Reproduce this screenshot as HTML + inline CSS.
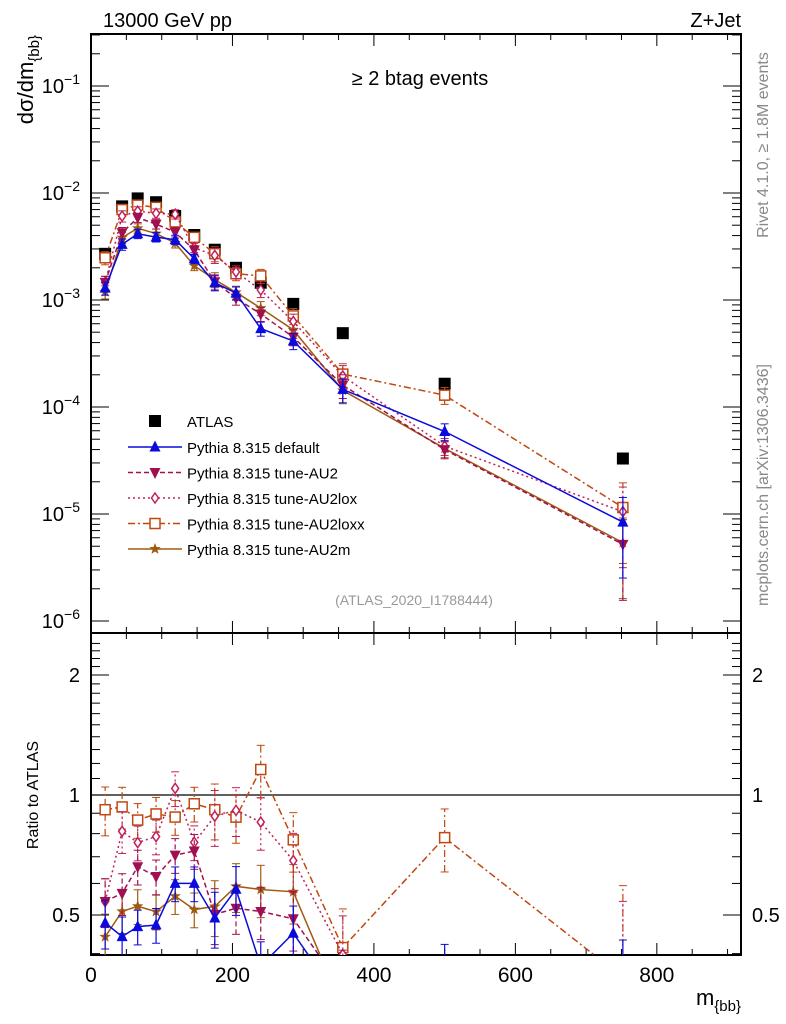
<!DOCTYPE html>
<html><head><meta charset="utf-8"><style>
html,body{margin:0;padding:0;background:#fff;overflow:hidden;width:786px;height:1024px}
svg{display:block;font-family:"Liberation Sans",sans-serif}
</style></head><body>
<svg id="c" width="786" height="1024" viewBox="0 0 786 1024"></svg>
<script>
const mbb=[20,44,66,92,119,146,175,205,240,286,356,500,752];
const atlas=[2.70e-3,7.5e-3,8.9e-3,8.2e-3,6.1e-3,4.05e-3,2.95e-3,2.0e-3,1.45e-3,9.2e-4,4.9e-4,1.65e-4,3.3e-5];
const pDefault=[1.29e-3,3.31e-3,4.16e-3,3.87e-3,3.66e-3,2.43e-3,1.45e-3,1.16e-3,5.4e-4,4.14e-4,1.46e-4,5.9e-5,8.4e-6];
const pAU2=[1.46e-3,4.25e-3,5.88e-3,5.12e-3,4.31e-3,2.93e-3,1.48e-3,1.04e-3,7.4e-4,4.5e-4,1.6e-4,4.0e-5,5.2e-6];
const pAU2lox=[1.46e-3,6.08e-3,6.76e-3,6.45e-3,6.34e-3,3.08e-3,2.61e-3,1.83e-3,1.24e-3,6.3e-4,1.95e-4,4.3e-5,1.05e-5];
const pAU2loxx=[2.48e-3,7.0e-3,7.7e-3,7.35e-3,5.37e-3,3.85e-3,2.71e-3,1.76e-3,1.68e-3,7.1e-4,2.03e-4,1.29e-4,1.15e-5];
const pAU2m=[1.19e-3,3.83e-3,4.68e-3,4.18e-3,3.4e-3,2.09e-3,1.55e-3,1.18e-3,8.4e-4,5.26e-4,1.43e-4,4.1e-5,5.4e-6];
const relErr=[0.14,0.12,0.1,0.1,0.1,0.1,0.16,0.14,0.15,0.17,0.25,0.18,0.7];
const series=[
 {name:'Pythia 8.315 default',v:pDefault,col:'#0a0adc',dash:'',m:'tri'},
 {name:'Pythia 8.315 tune-AU2',v:pAU2,col:'#a01050',dash:'5,3',m:'tridown'},
 {name:'Pythia 8.315 tune-AU2lox',v:pAU2lox,col:'#c0205a',dash:'2,3',m:'diamond'},
 {name:'Pythia 8.315 tune-AU2loxx',v:pAU2loxx,col:'#c04810',dash:'7,3,2,3',m:'square'},
 {name:'Pythia 8.315 tune-AU2m',v:pAU2m,col:'#a05a10',dash:'',m:'star'}];
const xTicks=[0,200,400,600,800];
const rTicks=[0.5,1,2];
const yDecades=[-6,-5,-4,-3,-2,-1];

const S=document.getElementById('c'),NS='http://www.w3.org/2000/svg';
function el(t,a,p){const e=document.createElementNS(NS,t);for(const k in a)e.setAttribute(k,a[k]);(p||S).appendChild(e);return e;}
const X0=91,X1=741,XMAX=919;
const X=v=>X0+v/XMAX*(X1-X0);
const MT=34,MB=633,Y=v=>86-(Math.log10(v)+1)*107;
const RT=633,RB=955,R=v=>795-Math.log2(v)*120;
const defs=el('defs',{});
const c1=el('clipPath',{id:'cm'},defs);el('rect',{x:X0,y:MT,width:X1-X0,height:MB-MT},c1);
const c2=el('clipPath',{id:'cr'},defs);el('rect',{x:X0,y:RT,width:X1-X0,height:RB-RT},c2);
let f=el('rect',{x:X0,y:MT,width:X1-X0,height:MB-MT,fill:'none',stroke:'#000','stroke-width':2});

f=el('rect',{x:X0,y:RT,width:X1-X0,height:RB-RT,fill:'none',stroke:'#000','stroke-width':2});

for(let v=0;v<=XMAX;v+=50){const big=v%200==0;const L=big?12:6;
 for(const [t,b] of [[MT,MB],[RT,RB]]){
  el('line',{x1:X(v),x2:X(v),y1:t,y2:t+L,stroke:'#000'});
  el('line',{x1:X(v),x2:X(v),y1:b,y2:b-L,stroke:'#000'});}}
xTicks.forEach(v=>{const t=el('text',{x:X(v),y:982,'font-size':21,'text-anchor':'middle'});t.textContent=v;
 });
yDecades.forEach(d=>{for(let k=1;k<10;k++){const y=Y(k*Math.pow(10,d));if(y<MT||y>MB)continue;const L=k==1?18:9;
 el('line',{x1:X0,x2:X0+L,y1:y,y2:y,stroke:'#000'});el('line',{x1:X1,x2:X1-L,y1:y,y2:y,stroke:'#000'});}
 const t=el('text',{x:80,y:Y(Math.pow(10,d))+7,'font-size':20,'text-anchor':'end'});
 t.innerHTML='10<tspan dy="-9" font-size="14">\u2212'+(-d)+'</tspan>';
 });
for(let v=0.4;v<=2.5;v+=0.1){const y=R(v);if(y<RT||y>RB)continue;const big=rTicks.some(r=>Math.abs(r-v)<1e-6);const L=big?18:9;
 el('line',{x1:X0,x2:X0+L,y1:y,y2:y,stroke:'#000'});el('line',{x1:X1,x2:X1-L,y1:y,y2:y,stroke:'#000'});}
rTicks.forEach(v=>{for(const [x,a] of [[80,'end'],[752,'start']]){const t=el('text',{x:x,y:R(v)+7,'font-size':20,'text-anchor':a});t.textContent=v;
 }});
el('line',{x1:X0,x2:X1,y1:R(1),y2:R(1),stroke:'#000','stroke-width':1.3});
function marker(g,m,x,y,col){const s=5.5;
 if(m=='tri')el('polygon',{points:`${x},${y-s-1} ${x-s},${y+s-1} ${x+s},${y+s-1}`,fill:col},g);
 else if(m=='tridown')el('polygon',{points:`${x},${y+s+1} ${x-s},${y-s+1} ${x+s},${y-s+1}`,fill:col},g);
 else if(m=='diamond')el('polygon',{points:`${x},${y-5} ${x-3.5},${y} ${x},${y+5} ${x+3.5},${y}`,fill:'#fff',stroke:col,'stroke-width':1.5},g);
 else if(m=='square')el('rect',{x:x-5,y:y-5,width:10,height:10,fill:'#fff',stroke:col,'stroke-width':1.5},g);
 else if(m=='star'){let p=[];for(let i=0;i<10;i++){const r=i%2?2.5:6,a=Math.PI/5*i-Math.PI/2;p.push((x+r*Math.cos(a)).toFixed(1)+','+(y+r*Math.sin(a)).toFixed(1));}el('polygon',{points:p.join(' '),fill:col},g);}
 else if(m=='sq')el('rect',{x:x-6,y:y-6,width:12,height:12,fill:'#000'},g);}
function drawSeries(s,Yf,vals,clip,nm){const g=el('g',{'clip-path':'url(#'+clip+')'});
 
 el('polyline',{points:vals.map((v,i)=>X(mbb[i])+','+Yf(v)).join(' '),fill:'none',stroke:s.col,'stroke-width':1.5,'stroke-dasharray':s.dash},g);
 vals.forEach((v,i)=>{const x=X(mbb[i]);const lo=Math.max(v*(1-relErr[i]),v*0.02),hi=v*(1+relErr[i]);
  el('line',{x1:x,x2:x,y1:Yf(lo),y2:Yf(hi),stroke:s.col,'stroke-width':1.2,'stroke-dasharray':s.dash},g);
  el('line',{x1:x-4,x2:x+4,y1:Yf(lo),y2:Yf(lo),stroke:s.col},g);el('line',{x1:x-4,x2:x+4,y1:Yf(hi),y2:Yf(hi),stroke:s.col},g);
  marker(g,s.m,x,Yf(v),s.col);});}
const ga=el('g',{'clip-path':'url(#cm)'});
atlas.forEach((v,i)=>marker(ga,'sq',X(mbb[i]),Y(v),'#000'));
series.slice().reverse().forEach(s=>{drawSeries(s,Y,s.v,'cm','series-'+s.m);
 drawSeries(s,R,s.v.map((v,i)=>v/atlas[i]),'cr','ratio-'+s.m);});
const lg=el('g',{});
marker(lg,'sq',155,421,'#000');let t=el('text',{x:187,y:427,'font-size':15},lg);t.textContent='ATLAS';
series.forEach((s,i)=>{const y=447+i*25.5;const e=el('g',{},lg);
 el('line',{x1:128,x2:182,y1:y,y2:y,stroke:s.col,'stroke-width':1.5,'stroke-dasharray':s.dash},e);marker(e,s.m,155,y,s.col);
 const tt=el('text',{x:187,y:y+6,'font-size':15},e);tt.textContent=s.name;});
function txt(x,y,s,a,str,name,extra){const e=el('text',Object.assign({x:x,y:y,'font-size':s,'text-anchor':a},extra||{}));e.innerHTML=str;return e;}
txt(103,27,20,'start','13000 GeV pp','energy-label');
txt(741,27,20,'end','Z+Jet','process-label');
txt(420,85,20,'middle','\u2265 2 btag events','selection-label');
txt(414,605,14,'middle','(ATLAS_2020_I1788444)','analysis-id',{fill:'#999'});
txt(768,145,16,'middle','Rivet 4.1.0, \u2265 1.8M events','rivet-label',{fill:'#888',transform:'rotate(-90 768 145)'});
txt(768,485,16,'middle','mcplots.cern.ch [arXiv:1306.3436]','mcplots-label',{fill:'#888',transform:'rotate(-90 768 485)'});
txt(33,35,22,'end','d\u03c3/dm<tspan dy="6" font-size="15">{bb}</tspan>','y-axis-title',{transform:'rotate(-90 33 35)'});
txt(38,795,16,'middle','Ratio to ATLAS','ratio-axis-title',{transform:'rotate(-90 38 795)'});
txt(741,1005,22,'end','m<tspan dy="6" font-size="15">{bb}</tspan>','x-axis-title');
</script>
</body></html>
